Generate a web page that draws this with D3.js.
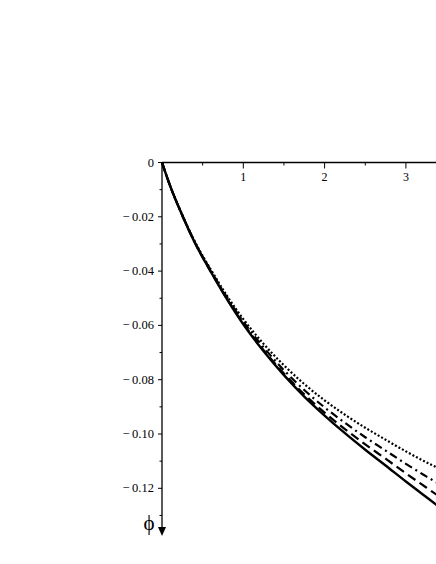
<!DOCTYPE html>
<html>
<head>
<meta charset="utf-8">
<script src="https://cdn.jsdelivr.net/npm/d3@7"></script>
<style>
  html, body { margin: 0; padding: 0; background: #fff; }
  svg { display: block; }
</style>
</head>
<body>
<div id="chart"></div>
<script>
// x positions (abscissa)
const xValues = [0, 0.1, 0.25, 0.4, 0.6, 0.8, 1.0, 1.25, 1.5, 1.75, 2.0, 2.25, 2.5, 2.75, 3.0, 3.25, 3.4];
// phi values for each curve
const solidPhi   = [0, -0.0086, -0.0195, -0.0293, -0.0402, -0.0504, -0.0596, -0.0695, -0.0783, -0.0862, -0.0932, -0.0997, -0.1058, -0.1116, -0.1175, -0.1232, -0.1266];
const dashedPhi  = [0, -0.0086, -0.0195, -0.0293, -0.0402, -0.0502, -0.0593, -0.0691, -0.0777, -0.0854, -0.0921, -0.0982, -0.1038, -0.1091, -0.1145, -0.1197, -0.1228];
const dashDotPhi = [0, -0.0086, -0.0195, -0.0291, -0.0398, -0.0497, -0.0586, -0.0681, -0.0765, -0.0838, -0.0902, -0.0959, -0.1012, -0.1061, -0.1110, -0.1156, -0.1183];
const dottedPhi  = [0, -0.0086, -0.0193, -0.0289, -0.0394, -0.0491, -0.0577, -0.0668, -0.0747, -0.0816, -0.0876, -0.0929, -0.0977, -0.1021, -0.1064, -0.1104, -0.1126];

const xMajorTicks = [1, 2, 3];
const xMinorTicks = [0.5, 1.5, 2.5, 3.5];
const yMajorTicks = [0, -0.02, -0.04, -0.06, -0.08, -0.10, -0.12];
const yMajorLabels = ["0", "\u2212\u20090.02", "\u2212\u20090.04", "\u2212\u20090.06", "\u2212\u20090.08", "\u2212\u20090.10", "\u2212\u20090.12"];
const yMinorTicks = [-0.01, -0.03, -0.05, -0.07, -0.09, -0.11, -0.13];
const yAxisLabel = "\u03d5";

const FONT = "'Liberation Serif', 'Times New Roman', Times, serif";
const W = 436, H = 564;
const svg = d3.select("#chart").append("svg").attr("width", W).attr("height", H);

const x = d3.scaleLinear().domain([0, 4]).range([162, 162 + 4 * 81.3]);
const y = d3.scaleLinear().domain([0, -0.13]).range([162.5, 162.5 + 13 * 27.15]);

// curves
const series = [
  { vals: dottedPhi,  dash: "2,2",     width: 2.2 },
  { vals: dashDotPhi, dash: "8,4,2,4", width: 2.2 },
  { vals: dashedPhi,  dash: "9,5",     width: 2.2 },
  { vals: solidPhi,   dash: null,      width: 2.4 }
];
const line = d3.line()
  .x(d => x(d[0]))
  .y(d => y(d[1]))
  .curve(d3.curveMonotoneX);

series.forEach(s => {
  const pts = xValues.map((xv, i) => [xv, s.vals[i]]);
  const p = svg.append("path")
    .datum(pts)
    .attr("d", line)
    .attr("fill", "none")
    .attr("stroke", "#000")
    .attr("stroke-width", s.width);
  if (s.dash) p.attr("stroke-dasharray", s.dash);
});

// X axis (at phi = 0, top), ticks pointing down
const xAxisG = svg.append("g").attr("transform", `translate(0,${y(0)})`);
xAxisG.append("line")
  .attr("x1", x(0)).attr("x2", W + 5)
  .attr("y1", 0).attr("y2", 0)
  .attr("stroke", "#000").attr("stroke-width", 1.3);
xAxisG.selectAll(".xmaj").data(xMajorTicks).enter().append("line")
  .attr("x1", d => x(d)).attr("x2", d => x(d))
  .attr("y1", 0).attr("y2", 6)
  .attr("stroke", "#000").attr("stroke-width", 1);
xAxisG.selectAll(".xmin").data(xMinorTicks).enter().append("line")
  .attr("x1", d => x(d)).attr("x2", d => x(d))
  .attr("y1", 0).attr("y2", 3)
  .attr("stroke", "#000").attr("stroke-width", 1);
xAxisG.selectAll(".xlab").data(xMajorTicks).enter().append("text")
  .attr("x", d => x(d)).attr("y", 18)
  .attr("text-anchor", "middle")
  .attr("font-family", FONT)
  .attr("font-size", 12)
  .text(d => d);

// Y axis (at x = 0), ticks pointing left, arrow at bottom
const yAxisG = svg.append("g").attr("transform", `translate(${x(0)},0)`);
yAxisG.append("line")
  .attr("x1", 0).attr("x2", 0)
  .attr("y1", y(0)).attr("y2", 529)
  .attr("stroke", "#000").attr("stroke-width", 1.3);
yAxisG.append("path")
  .attr("d", "M-4,527 L4,527 L0,536 Z")
  .attr("fill", "#000");
yAxisG.selectAll(".ymaj").data(yMajorTicks).enter().append("line")
  .attr("x1", -4).attr("x2", 0)
  .attr("y1", d => y(d)).attr("y2", d => y(d))
  .attr("stroke", "#000").attr("stroke-width", 1);
yAxisG.selectAll(".ymin").data(yMinorTicks).enter().append("line")
  .attr("x1", -2.5).attr("x2", 0)
  .attr("y1", d => y(d)).attr("y2", d => y(d))
  .attr("stroke", "#000").attr("stroke-width", 1);
yAxisG.selectAll(".ylab").data(yMajorTicks).enter().append("text")
  .attr("x", -8).attr("y", d => y(d) + 4)
  .attr("text-anchor", "end")
  .attr("font-family", FONT)
  .attr("font-size", 12.5)
  .text((d, i) => yMajorLabels[i]);

svg.append("text")
  .attr("x", 149).attr("y", 530)
  .attr("text-anchor", "middle")
  .attr("font-family", FONT)
  .attr("font-size", 21)
  .text(yAxisLabel);
</script>
</body>
</html>
